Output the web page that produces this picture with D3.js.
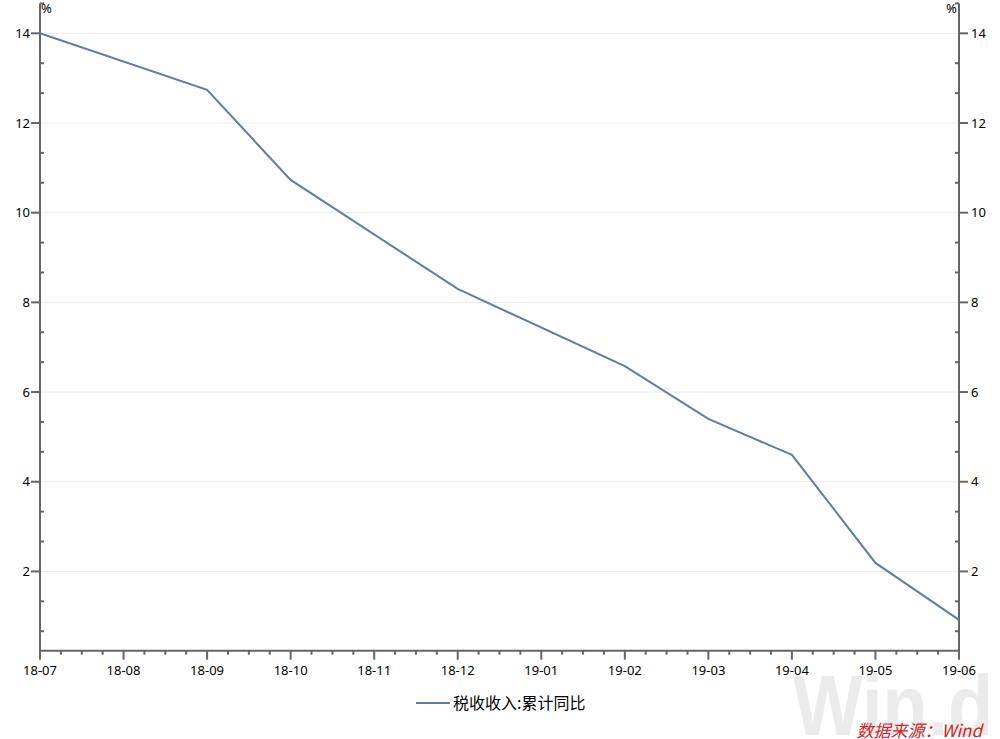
<!DOCTYPE html>
<html><head><meta charset="utf-8">
<script src="https://cdn.jsdelivr.net/npm/d3@7"></script>
<style>body{margin:0;background:#fff}svg{display:block}</style>
</head><body>
<svg id="c" width="1000" height="739"></svg>
<script>
const categories = ["18-07","18-08","18-09","18-10","18-11","18-12","19-01","19-02","19-03","19-04","19-05","19-06"];
const values = [14.0, null, 12.74, 10.73, null, 8.30, null, 6.58, 5.40, 4.60, 2.19, 0.92];
const yTicks = [2,4,6,8,10,12,14];
const seriesName = "税收收入:累计同比";

const svg = d3.select("#c");
const x0 = 40, x1 = 959, yTop = 3.4, yBot = 650.7;
const font = "'Noto Sans', 'Noto Sans CJK SC', sans-serif";
const x = d3.scalePoint().domain(categories).range([x0, x1]);
const y = d3.scaleLinear().domain([0.232, 14.667]).range([yBot, yTop]);
const axisColor = "#666";

// gridlines
svg.append("g").selectAll("line").data(yTicks).join("line")
  .attr("x1", x0).attr("x2", x1).attr("y1", d => y(d)).attr("y2", d => y(d))
  .attr("stroke", "#ebebeb").attr("stroke-width", 1);

// watermark
svg.append("text").attr("x", 793).attr("y", 735).text("Win.d")
  .attr("font-family", "'Liberation Sans', Arial, sans-serif").attr("font-weight", "bold")
  .attr("font-size", 86).attr("textLength", 200).attr("lengthAdjust", "spacingAndGlyphs")
  .attr("fill", "#ebebeb");

const minorY = d3.range(0, 23).map(i => i * 2/3).filter(v => v >= 0.232 && v <= 14.7 && Math.abs(v/2 - Math.round(v/2)) > 1e-6);
// left axis
const left = svg.append("g");
left.append("line").attr("x1", x0).attr("x2", x0).attr("y1", y(14.667)).attr("y2", yBot + 1).attr("stroke", axisColor).attr("stroke-width", 2);
left.selectAll(".mj").data(yTicks).join("line").attr("x1", x0 - 9).attr("x2", x0).attr("y1", d => y(d)).attr("y2", d => y(d)).attr("stroke", axisColor).attr("stroke-width", 2);
left.selectAll(".mn").data(minorY).join("line").attr("x1", x0).attr("x2", x0 + 4).attr("y1", d => y(d)).attr("y2", d => y(d)).attr("stroke", axisColor).attr("stroke-width", 2);
left.selectAll("text").data(yTicks).join("text").attr("x", x0 - 10).attr("y", d => y(d)).attr("dy", "0.35em")
  .attr("text-anchor", "end").attr("font-family", font).attr("font-size", 13).attr("fill", "#000").text(d => d);
// right axis
const right = svg.append("g");
right.append("line").attr("x1", x1).attr("x2", x1).attr("y1", y(14.667)).attr("y2", yBot + 1).attr("stroke", axisColor).attr("stroke-width", 2);
right.selectAll(".mj").data(yTicks).join("line").attr("x1", x1).attr("x2", x1 + 9).attr("y1", d => y(d)).attr("y2", d => y(d)).attr("stroke", axisColor).attr("stroke-width", 2);
right.selectAll(".mn").data(minorY).join("line").attr("x1", x1 - 4).attr("x2", x1).attr("y1", d => y(d)).attr("y2", d => y(d)).attr("stroke", axisColor).attr("stroke-width", 2);
right.selectAll("text").data(yTicks).join("text").attr("x", x1 + 12).attr("y", d => y(d)).attr("dy", "0.35em")
  .attr("text-anchor", "start").attr("font-family", font).attr("font-size", 13).attr("fill", "#000").text(d => d);
// % labels
svg.append("text").attr("x", x0 + 1).attr("y", 13).text("%").attr("font-family", font).attr("font-size", 13).attr("fill", "#000");
svg.append("text").attr("x", x1 - 13).attr("y", 13).text("%").attr("font-family", font).attr("font-size", 13).attr("fill", "#000");

// x axis
const step = x.step();
const xa = svg.append("g");
xa.append("line").attr("x1", x0 - 1).attr("x2", x1 + 1).attr("y1", yBot).attr("y2", yBot).attr("stroke", axisColor).attr("stroke-width", 2);
xa.selectAll(".mj").data(categories).join("line").attr("x1", d => x(d)).attr("x2", d => x(d)).attr("y1", yBot).attr("y2", yBot + 9).attr("stroke", axisColor).attr("stroke-width", 2);
const minorX = [];
categories.slice(0, -1).forEach(c => { for (let k = 1; k < 4; k++) minorX.push(x(c) + step * k / 4); });
xa.selectAll(".mn").data(minorX).join("line").attr("x1", d => d).attr("x2", d => d).attr("y1", yBot).attr("y2", yBot + 4).attr("stroke", axisColor).attr("stroke-width", 2);
xa.selectAll("text").data(categories).join("text").attr("x", d => x(d)).attr("y", 675)
  .attr("text-anchor", "middle").attr("font-family", font).attr("font-size", 13).attr("fill", "#000").text(d => d);

// line
const pts = categories.map((c, i) => ({c, v: values[i]})).filter(d => d.v != null);
svg.append("path").datum(pts)
  .attr("d", d3.line().x(d => x(d.c)).y(d => y(d.v)))
  .attr("fill", "none").attr("stroke", "#5a7fa8").attr("stroke-width", 2);

// legend
svg.append("line").attr("x1", 416).attr("x2", 450).attr("y1", 703).attr("y2", 703).attr("stroke", "#5a7fa8").attr("stroke-width", 2);
svg.append("text").attr("x", 453).attr("y", 703).attr("dy", "0.35em").text(seriesName)
  .attr("font-family", "'Noto Sans CJK SC', sans-serif").attr("font-size", 16).attr("fill", "#000");

// source
svg.append("text").attr("x", 982).attr("y", 737).attr("text-anchor", "end").text("数据来源：Wind")
  .attr("font-family", "'Noto Sans CJK SC', sans-serif").attr("font-style", "italic").attr("font-size", 17).attr("fill", "#d42020");
</script>
</body></html>
